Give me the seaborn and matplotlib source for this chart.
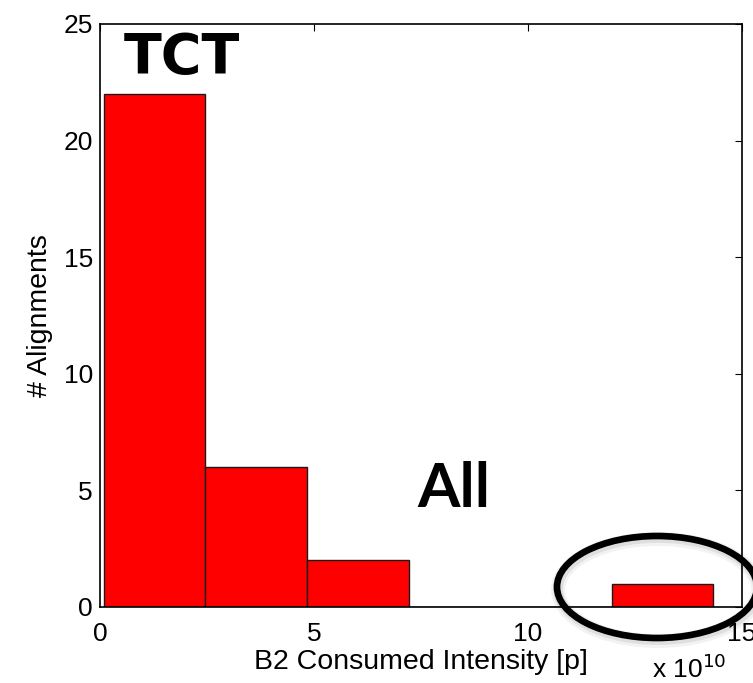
import numpy as np
import pandas as pd
import seaborn as sns
import matplotlib.pyplot as plt
from matplotlib.patches import Ellipse

# Histogram of consumed intensity (units of 1e10 protons)
bin_edges = [0.09, 2.463, 4.836, 7.209, 9.582, 11.955, 14.33]
counts = [22, 6, 2, 0, 0, 1]
x_ticks = [0, 5, 10, 15]
y_ticks = [0, 5, 10, 15, 20, 25]

centers = [(a + b) / 2 for a, b in zip(bin_edges[:-1], bin_edges[1:])]
df = pd.DataFrame({"intensity": centers, "n": counts})

sns.set_style("white")
plt.rcParams["font.family"] = ["Liberation Sans", "DejaVu Sans"]
plt.rcParams.update({"text.color": "black", "axes.labelcolor": "black",
                     "xtick.color": "black", "ytick.color": "black"})

fig = plt.figure(figsize=(7.53, 6.83), dpi=100)
ax = fig.add_axes([0.1328, 0.1113, 0.8526, 0.8536])

sns.histplot(data=df, x="intensity", weights="n", bins=bin_edges,
             color="#ff0000", alpha=1.0, edgecolor="#1a1a1a", linewidth=1.0,
             ax=ax)

ax.set_xlim(0, 15)
ax.set_ylim(0, 25)
ax.set_xticks(x_ticks)
ax.set_yticks(y_ticks)
ax.tick_params(direction="in", length=5, width=0.8, labelsize=19,
               top=True, right=True)
ax.tick_params(axis="x", pad=11)
ax.tick_params(axis="y", pad=5)
for s in ax.spines.values():
    s.set_color("black")
    s.set_linewidth(1.2)
    s.set_visible(True)

ax.set_xlabel("B2 Consumed Intensity [p]", fontsize=20.5, labelpad=2)
ax.set_ylabel("# Alignments", fontsize=20.5, labelpad=8)

fig.text(652 / 753, 1 - 678 / 683, r"x 10$^{10}$", fontsize=19,
         ha="left", va="baseline")

fig.text(124 / 753, 1 - 73 / 683, "TCT", fontsize=40, fontweight="bold",
         family=["DejaVu Sans"], ha="left", va="baseline")
fig.text(417 / 753, 1 - 507 / 683, "All", fontsize=44, fontweight="bold",
         family=["Lato", "DejaVu Sans"], ha="left", va="baseline")

# faint shadow under the highlight ring, then the ring itself
for dy, lw, a in [(3, 10, 0.05), (2, 7, 0.08)]:
    fig.add_artist(Ellipse((658 / 753, 1 - (587 + dy) / 683), 200 / 753, 102 / 683,
                           transform=fig.transFigure, fill=False,
                           edgecolor="black", alpha=a, linewidth=lw,
                           clip_on=False))
ring = Ellipse((657 / 753, 1 - 587 / 683), 200 / 753, 102 / 683,
               transform=fig.transFigure, fill=False, edgecolor="black",
               linewidth=4.8, clip_on=False)
fig.add_artist(ring)

fig.savefig("out.png", dpi=100)
